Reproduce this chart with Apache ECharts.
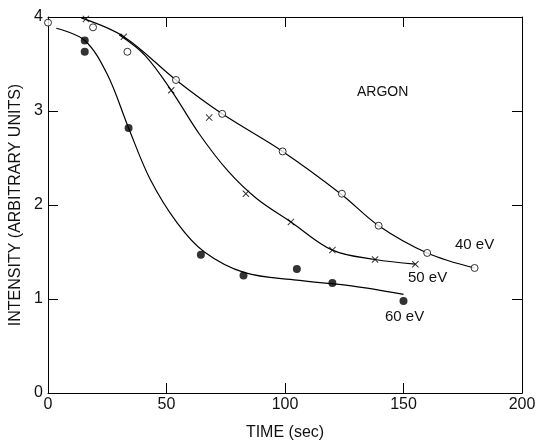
<!DOCTYPE html>
<html>
<head>
<meta charset="utf-8">
<script src="https://cdn.jsdelivr.net/npm/echarts@6/dist/echarts.min.js"></script>
<style>html,body{margin:0;padding:0;background:#fff}#c{width:537px;height:441px}</style>
</head>
<body>
<div id="c"></div>
<script>
// Measured points
const x40 = [0, 19, 33.5, 54, 73.5, 99, 124, 139.5, 160, 180];
const y40 = [3.94, 3.89, 3.63, 3.33, 2.97, 2.57, 2.12, 1.78, 1.49, 1.33];
const x50 = [16, 32, 52, 68, 83.5, 102.5, 120, 138, 155];
const y50 = [3.98, 3.79, 3.22, 2.93, 2.12, 1.82, 1.52, 1.42, 1.37];
const x60 = [15.5, 15.5, 34, 64.5, 82.5, 105, 120, 150];
const y60 = [3.75, 3.63, 2.82, 1.47, 1.25, 1.32, 1.17, 0.98];
// Fitted curves
const cx40 = [14, 32, 54, 73.5, 99, 124, 139.5, 160, 180];
const cy40 = [3.99, 3.79, 3.33, 2.97, 2.57, 2.11, 1.78, 1.49, 1.33];
const cx50 = [30, 41, 52, 64, 76, 88, 102.5, 120, 138, 155];
const cy50 = [3.81, 3.59, 3.22, 2.75, 2.36, 2.07, 1.82, 1.52, 1.42, 1.37];
const cx60 = [3.5, 15.5, 25, 34, 43, 54.5, 66, 83, 105, 128, 150];
const cy60 = [3.88, 3.75, 3.39, 2.82, 2.28, 1.81, 1.50, 1.28, 1.20, 1.14, 1.05];
const xTicks = [0, 50, 100, 150, 200];
const yTicks = [0, 1, 2, 3, 4];
const seriesLabels = ['40 eV', '50 eV', '60 eV'];
const title = 'ARGON';

const zip = (a, b) => a.map((v, i) => [v, b[i]]);
const font = 'Liberation Sans, Arial, sans-serif';
const crossPath = 'path://M0,1L1,0L5,4L9,0L10,1L6,5L10,9L9,10L5,6L1,10L0,9L4,5Z';

const chart = echarts.init(document.getElementById('c'), null, {renderer: 'canvas'});
const axisCommon = {
  min: 0,
  axisLine: {show: true, onZero: false, lineStyle: {color: '#000', width: 1}},
  axisTick: {show: true, inside: true, length: 10, lineStyle: {color: '#000', width: 1}},
  splitLine: {show: false}
};
const curve = (xs, ys) => ({type: 'line', data: zip(xs, ys), smooth: 0.35,
  showSymbol: false, lineStyle: {color: '#000', width: 1.2}, silent: true});
chart.setOption({
  animation: false,
  backgroundColor: '#fff',
  grid: {left: 48, right: 15, top: 17, bottom: 48, containLabel: false, outerBoundsMode: 'none'},
  xAxis: [
    Object.assign({}, axisCommon, {
      type: 'value', max: 200, interval: 50, position: 'bottom',
      name: 'TIME (sec)', nameLocation: 'middle', nameGap: 32,
      nameTextStyle: {fontFamily: font, fontSize: 16, color: '#111'},
      axisLabel: {fontFamily: font, fontSize: 16, color: '#111', margin: 4,
        formatter: v => xTicks.includes(v) ? String(v) : ''}
    }),
    Object.assign({}, axisCommon, {
      type: 'value', max: 200, interval: 50, position: 'top', axisLabel: {show: false}
    })
  ],
  yAxis: [
    Object.assign({}, axisCommon, {
      type: 'value', max: 4, interval: 1, position: 'left',
      name: 'INTENSITY (ARBITRARY UNITS)', nameLocation: 'middle', nameGap: 22,
      nameTextStyle: {fontFamily: font, fontSize: 16, color: '#111'},
      axisLabel: {fontFamily: font, fontSize: 16, color: '#111', margin: 5,
        formatter: v => yTicks.includes(v) ? String(v) : ''}
    }),
    Object.assign({}, axisCommon, {
      type: 'value', max: 4, interval: 1, position: 'right', axisLabel: {show: false}
    })
  ],
  series: [
    curve(cx40, cy40),
    curve(cx50, cy50),
    curve(cx60, cy60),
    {type: 'scatter', data: zip(x40, y40), symbol: 'circle', symbolSize: 7,
      itemStyle: {color: '#fff', borderColor: '#000', borderWidth: 1}, z: 5},
    {type: 'scatter', data: zip(x50, y50), symbol: crossPath, symbolSize: 7,
      itemStyle: {color: '#000'}, z: 5},
    {type: 'scatter', data: zip(x60, y60), symbol: 'circle', symbolSize: 8,
      itemStyle: {color: '#000'}, z: 5}
  ],
  graphic: [
    {type: 'text', left: 357, top: 85, style: {text: title, font: '14px ' + font, fill: '#111'}},
    {type: 'text', left: 455, top: 237, style: {text: seriesLabels[0], font: '15px ' + font, fill: '#111'}},
    {type: 'text', left: 408, top: 270, style: {text: seriesLabels[1], font: '15px ' + font, fill: '#111'}},
    {type: 'text', left: 385, top: 309, style: {text: seriesLabels[2], font: '15px ' + font, fill: '#111'}}
  ]
});
</script>
</body>
</html>
